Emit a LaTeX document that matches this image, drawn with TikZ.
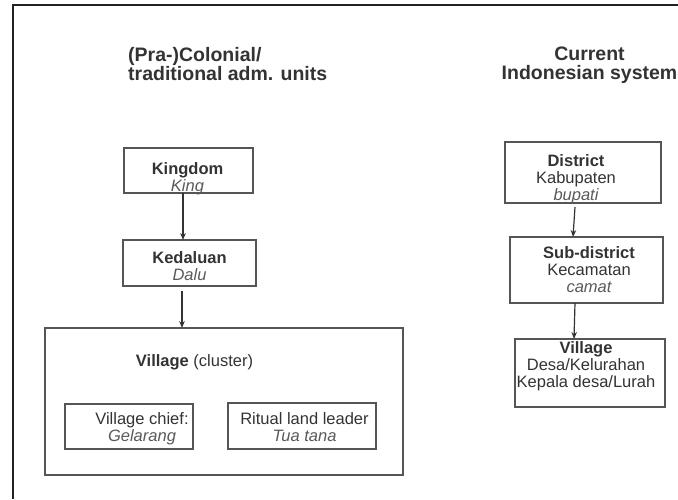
\documentclass[tikz,border=0pt]{standalone}
\usepackage{fontspec}
\setmainfont{Liberation Sans}
\usetikzlibrary{arrows.meta}
\definecolor{ink}{HTML}{333333}
\definecolor{lineg}{HTML}{555555}
\definecolor{itg}{HTML}{5A5A5A}
\definecolor{framec}{HTML}{222222}
\tikzset{
 box/.style={draw=lineg, line width=1.3pt, inner sep=0pt, outer sep=0pt},
 txt/.style={font=\fontsize{16.5}{17}\selectfont, text=ink, align=center, inner sep=0pt, anchor=base},
 head/.style={font=\fontsize{19.5}{18.5}\selectfont\bfseries, text=ink, inner sep=0pt},
 arr/.style={draw=ink, line width=1.2pt, -{Stealth[length=7pt,width=5.5pt]}},
}
\begin{document}
\begin{tikzpicture}[x=1pt,y=-1pt]
\useasboundingbox[fill=white] (0,0) rectangle (678,499);
\draw[framec, line width=1.5pt] (13,499) -- (13,5) -- (678,5);

% headings
\node[head, align=left, anchor=base west] (hleft) at (128,80) {(Pra-)Colonial/\\traditional adm. units};
\node[head, align=center, anchor=base] (hright) at (589.5,79) {Current\\Indonesian system};

% left column
\node[box, minimum width=129pt, minimum height=45pt] (kingdom) at (188.5,170.5) {};
\node[txt] (kingdomt) at (187.5,191.5) {\textbf{Kingdom}\\\textcolor{itg}{\itshape King}};

\node[box, minimum width=133pt, minimum height=46pt] (kedaluan) at (189.5,263) {};
\node[txt] (kedaluant) at (189.5,280) {\textbf{Kedaluan}\\\textcolor{itg}{\itshape Dalu}};

\node[box, minimum width=358pt, minimum height=147pt] (cluster) at (224,401.5) {};
\node[txt] (clustert) at (194.5,366) {\textbf{Village} (cluster)};

\node[box, minimum width=128pt, minimum height=45pt] (chief) at (129,426.5) {};
\node[txt] (chieft) at (142,441) {Village chief:\\\textcolor{itg}{\itshape Gelarang}};

\node[box, minimum width=148pt, minimum height=46pt] (ritual) at (302,426) {};
\node[txt] (ritualt) at (304.5,441) {Ritual land leader\\\textcolor{itg}{\itshape Tua tana}};

% right column
\node[box, minimum width=156pt, minimum height=61pt] (district) at (583,172.5) {};
\node[txt] (districtt) at (576,200.5) {\textbf{District}\\Kabupaten\\\textcolor{itg}{\itshape bupati}};

\node[box, minimum width=153pt, minimum height=66pt] (sub) at (586.5,270) {};
\node[txt] (subt) at (589,292.5) {\textbf{Sub-district}\\Kecamatan\\\textcolor{itg}{\itshape camat}};

\node[box, minimum width=150pt, minimum height=68pt] (village) at (590,373) {};
\node[txt] (villaget) at (586,387) {\textbf{Village}\\Desa/Kelurahan\\Kepala desa/Lurah};

% arrows
\draw[arr] ([xshift=-5.5pt]kingdom.south) -- ([xshift=-6.5pt]kedaluan.north);
\draw[arr] ([xshift=-7.5pt,yshift=-5pt]kedaluan.south) -- ([xshift=-42pt]cluster.north);
\draw[arr] ([xshift=-8pt,yshift=-4pt]district.south) -- ([xshift=-13.5pt]sub.north);
\draw[arr] ([xshift=-11.5pt]sub.south) -- ([xshift=-16pt]village.north);
\end{tikzpicture}
\end{document}
